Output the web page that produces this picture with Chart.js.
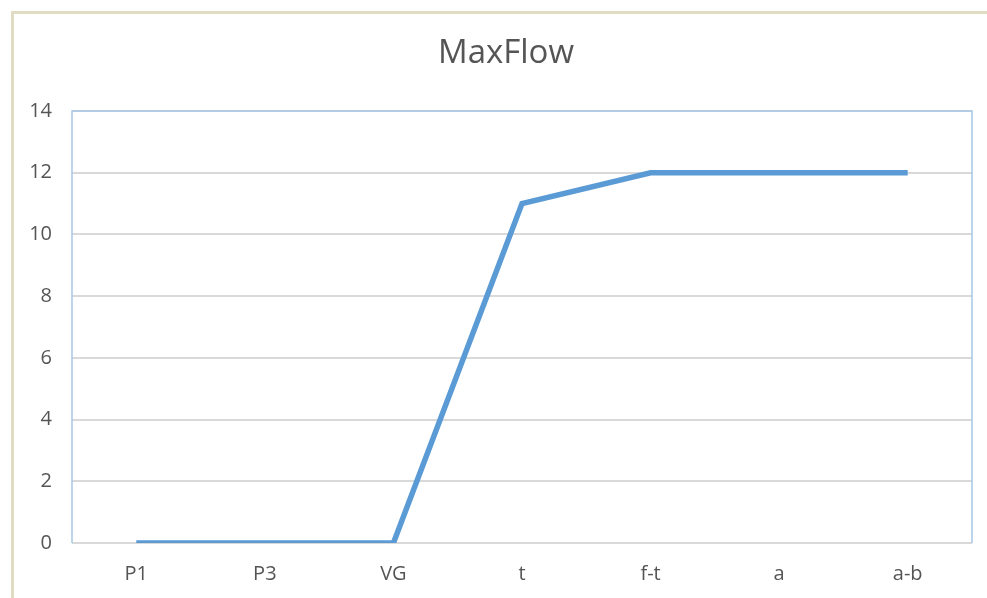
<!DOCTYPE html>
<html>
<head>
<meta charset="utf-8">
<script src="https://cdn.jsdelivr.net/npm/chart.js@4"></script>
<style>
html,body{margin:0;padding:0;background:#fff;}
#wrap{position:relative;width:987px;height:598px;overflow:hidden;}
#frame{position:absolute;left:11px;top:11px;width:990px;height:600px;border-top:3px solid #e0dcc4;border-left:3px solid #e0dcc4;box-sizing:border-box;}
canvas{position:absolute;left:0;top:0;}
</style>
</head>
<body>
<div id="wrap">
<div id="frame"></div>
<canvas id="c" width="987" height="598"></canvas>
</div>
<script>
const categories = ["P1", "P3", "VG", "t", "f-t", "a", "a-b"];
const maxFlow = [0, 0, 0, 11, 12, 12, 12];
const chartTitle = "MaxFlow";

const plotBorder = {
  id: 'plotBorder',
  afterDraw(chart) {
    const a = chart.chartArea, ctx = chart.ctx;
    ctx.save();
    ctx.strokeStyle = '#a7c7e7';
    ctx.lineWidth = 1.5;
    ctx.beginPath();
    ctx.moveTo(a.left, a.bottom);
    ctx.lineTo(a.left, a.top);
    ctx.lineTo(a.right, a.top);
    ctx.lineTo(a.right, a.bottom);
    ctx.stroke();
    // chart title, centred over the framed chart
    ctx.fillStyle = '#555555';
    ctx.font = 'normal 33px "Open Sans"';
    ctx.textAlign = 'center';
    ctx.textBaseline = 'middle';
    ctx.fillText(chartTitle, 506, 54);
    ctx.restore();
  }
};

new Chart(document.getElementById('c'), {
  type: 'line',
  data: {
    labels: categories,
    datasets: [{
      data: maxFlow,
      borderColor: '#5b9bd5',
      borderWidth: 5.5,
      pointRadius: 0,
      fill: false,
      tension: 0
    }]
  },
  options: {
    responsive: false,
    animation: false,
    layout: { padding: { top: 111, right: 15, left: 0, bottom: 0 } },
    plugins: {
      legend: { display: false },
      tooltip: { enabled: false },
      title: { display: false }
    },
    scales: {
      x: {
        offset: true,
        grid: { display: false, drawTicks: false },
        border: { display: false },
        ticks: { color: '#555555', font: { family: 'Open Sans', size: 20 }, padding: 19, maxRotation: 0 },
        afterFit(s) { s.height = 55; }
      },
      y: {
        min: 0, max: 14,
        grid: { color: '#d9d9d9', lineWidth: 2, drawTicks: false },
        border: { display: false },
        ticks: { stepSize: 2, color: '#555555', font: { family: 'Open Sans', size: 20 }, padding: 20 },
        afterFit(s) { s.width = 72; }
      }
    }
  },
  plugins: [plotBorder]
});
</script>
</body>
</html>
